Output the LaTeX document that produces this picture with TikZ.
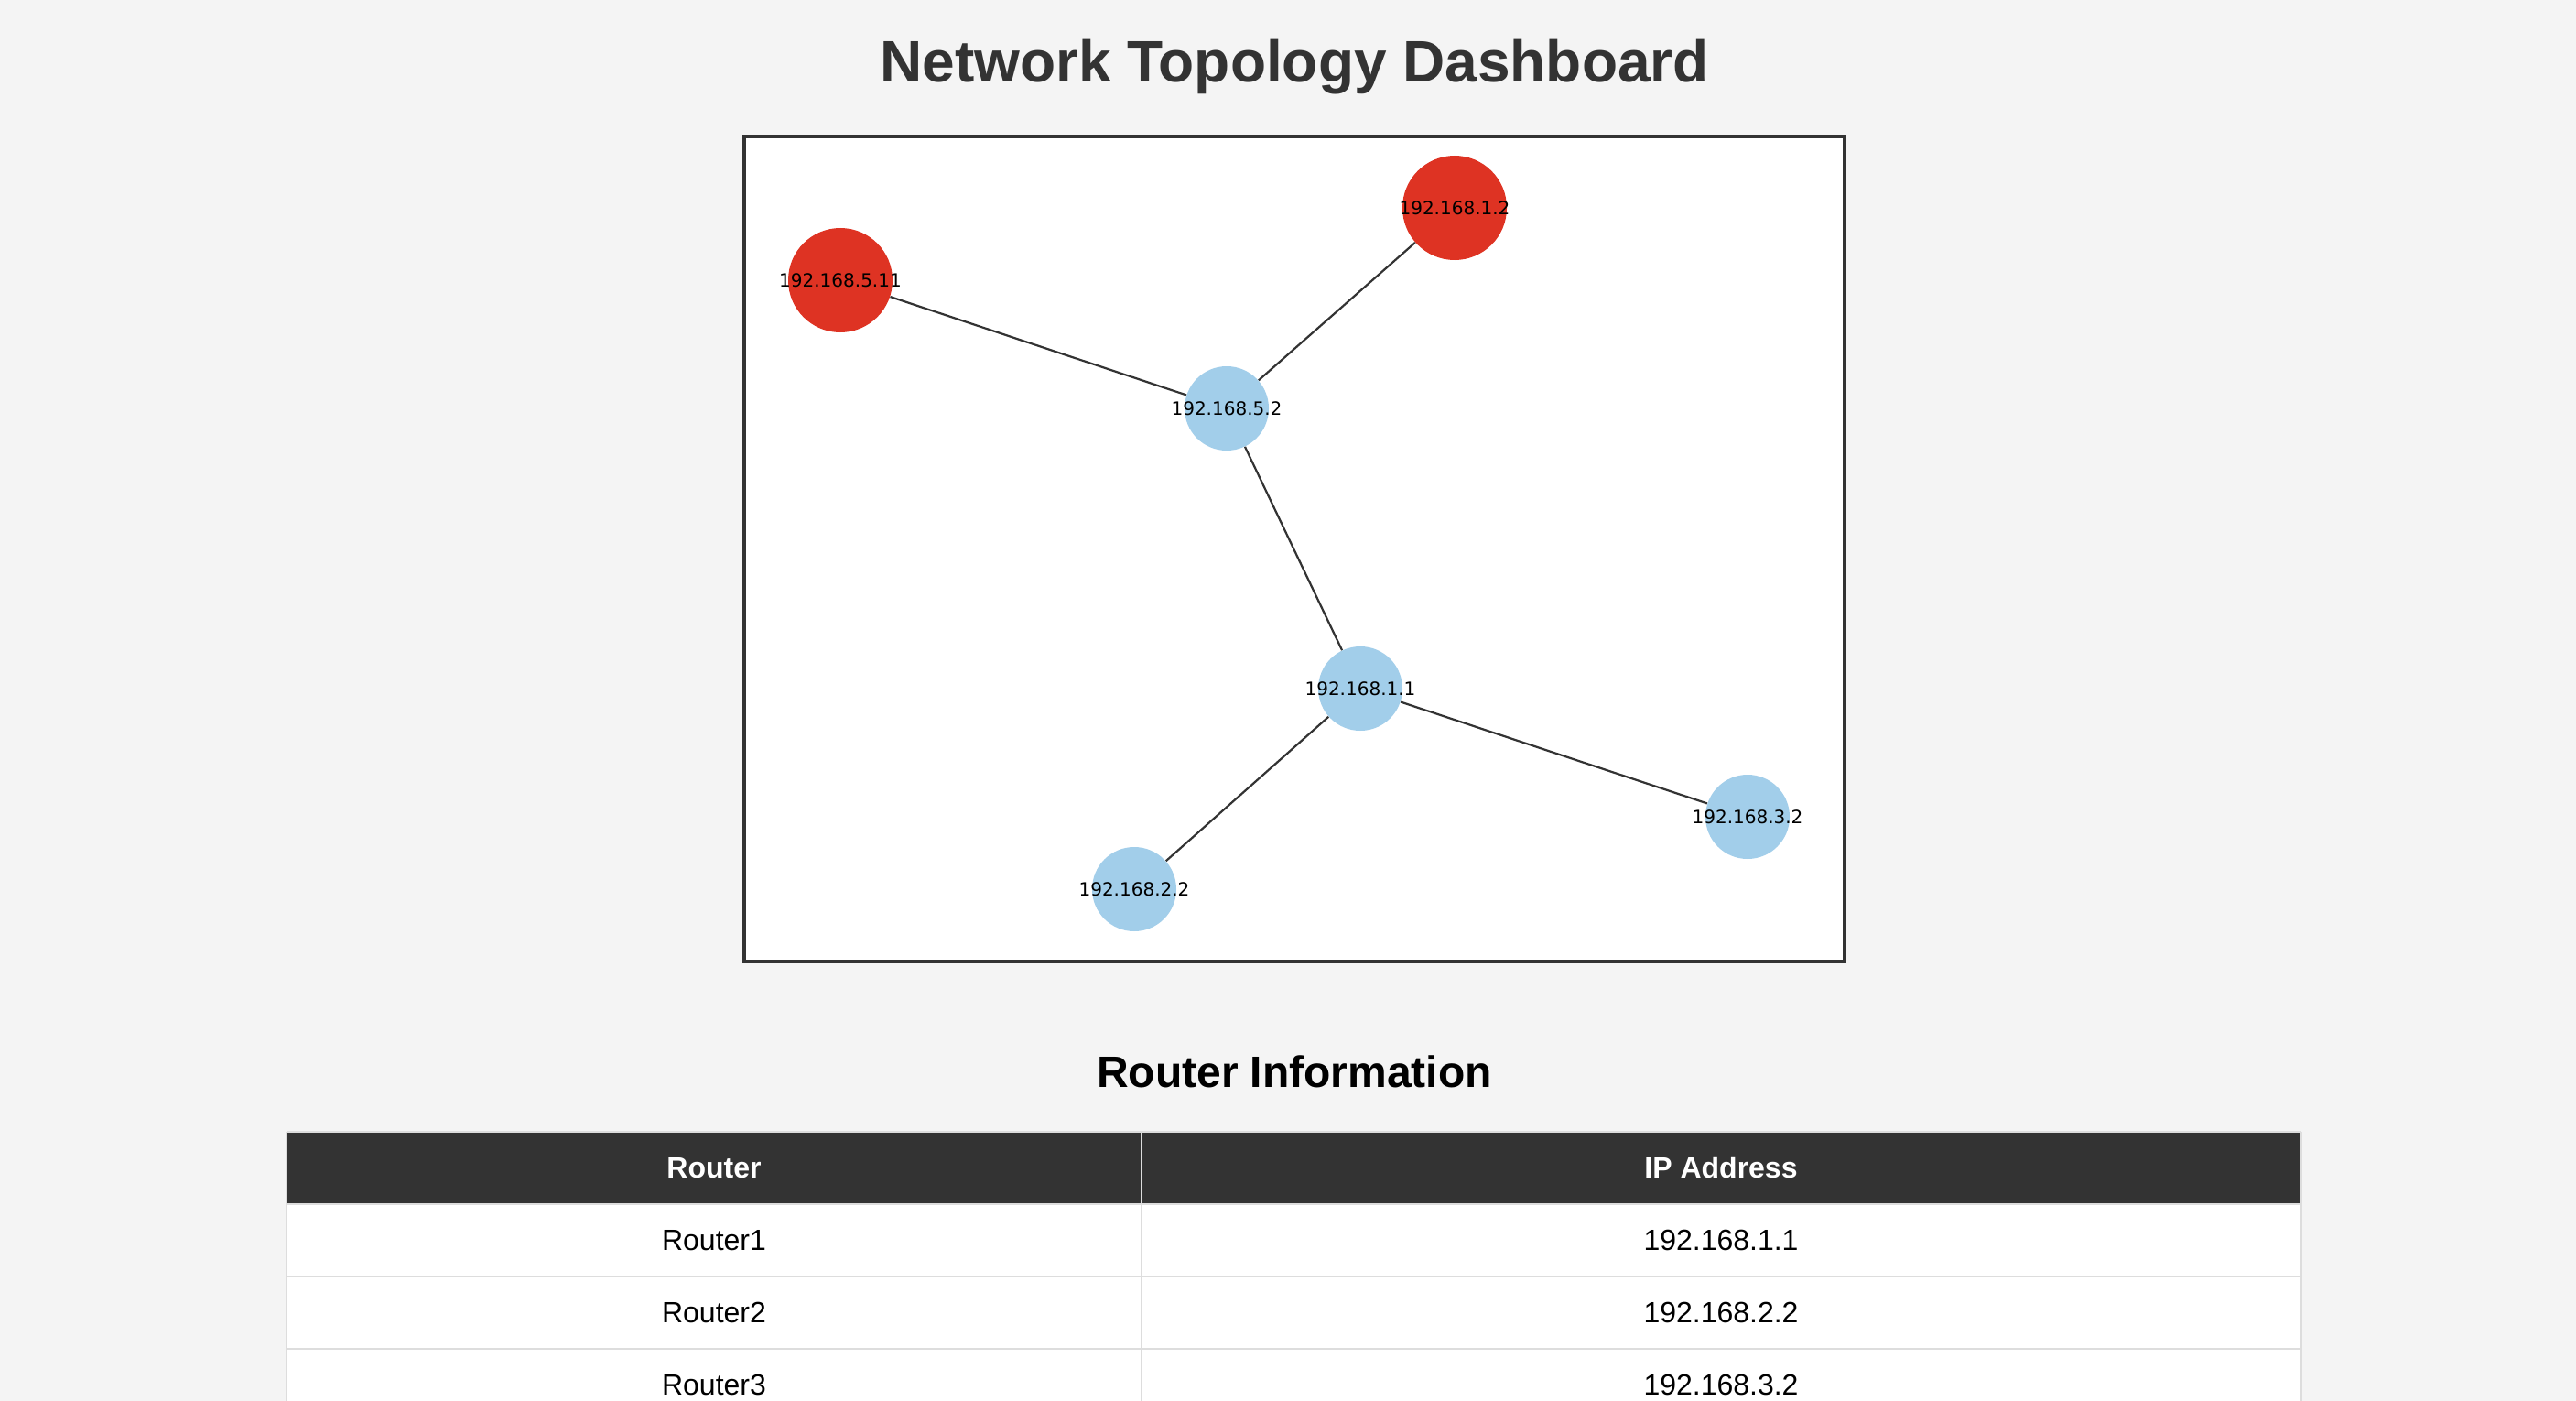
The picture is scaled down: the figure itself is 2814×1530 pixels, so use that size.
\documentclass[tikz,border=0pt]{standalone}
\usepackage{fontspec}
\setmainfont{Liberation Sans}
\newfontfamily\ipfont{DejaVu Sans}
\definecolor{pagebg}{HTML}{F4F4F4}
\definecolor{darkgray}{HTML}{333333}
\definecolor{gridgray}{HTML}{DDDDDD}
\definecolor{hostred}{HTML}{DE3323}
\definecolor{hostblue}{HTML}{A2CEEA}
\tikzset{
  router/.style={circle, inner sep=0pt, minimum size=46pt, fill=hostblue},
  gateway/.style={router, minimum size=57pt, fill=hostred},
  iplabel/.style={font=\ipfont\fontsize{10}{12}\selectfont, inner sep=0pt, text=black},
  link/.style={draw=darkgray, line width=1.1pt},
  cell/.style={anchor=base, inner sep=0pt, font=\fontsize{16}{19}\selectfont},
  headcell/.style={cell, text=white, font=\fontsize{16}{19}\selectfont\bfseries},
  gridline/.style={draw=gridgray, line width=1pt},
}
\begin{document}
\begin{tikzpicture}[x=0.5pt,y=0.5pt,yscale=-1,xscale=1]
\useasboundingbox (0,0) rectangle (2814,1530);
%Shape: Page background
\fill [pagebg] (0,0) rectangle (2814,1530);

%Text: Title
\node [anchor=base, inner sep=0pt, text=darkgray, font=\fontsize{32}{38}\selectfont\bfseries] (title) at (1414,90) {Network Topology Dashboard};

%Shape: Graph panel
\draw [draw=darkgray, line width=2pt, fill=white] (813,149) rectangle (2015,1050);

%Shape: Circles
\node [gateway] (h511) at (918,306) {};
\node [gateway] (h12) at (1589,227) {};
\node [router] (h52) at (1340,446) {};
\node [router] (h11) at (1486,752) {};
\node [router] (h32) at (1909,892) {};
\node [router] (h22) at (1239,971) {};

%Straight Lines
\draw [link] (h511) -- (h52);
\draw [link] (h12) -- (h52);
\draw [link] (h52) -- (h11);
\draw [link] (h11) -- (h32);
\draw [link] (h11) -- (h22);

%Text: IP labels
\node [iplabel] (t511) at (h511) {192.168.5.11};
\node [iplabel] (t12) at (h12) {192.168.1.2};
\node [iplabel] (t52) at (h52) {192.168.5.2};
\node [iplabel] (t11) at (h11) {192.168.1.1};
\node [iplabel] (t32) at (h32) {192.168.3.2};
\node [iplabel] (t22) at (h22) {192.168.2.2};

%Text: Section title
\node [anchor=base, inner sep=0pt, text=black, font=\fontsize{24}{29}\selectfont\bfseries] (subtitle) at (1414,1187) {Router Information};

%Shape: Table
\fill [white] (313,1315) rectangle (2514,1530);
\fill [darkgray] (313,1236) rectangle (2514,1315);
\draw [gridline] (313,1236) -- (2514,1236);
\draw [gridline] (313,1315) -- (2514,1315);
\draw [gridline] (313,1394) -- (2514,1394);
\draw [gridline] (313,1473) -- (2514,1473);
\draw [gridline] (313,1236) -- (313,1530);
\draw [gridline] (1247,1236) -- (1247,1530);
\draw [gridline] (2514,1236) -- (2514,1530);

%Text: Table cells
\node [headcell] (hrouter) at (780,1286) {Router};
\node [headcell] (hip) at (1880,1286) {IP Address};
\node [cell] (c11) at (780,1365) {Router1};
\node [cell] (c12) at (1880,1365) {192.168.1.1};
\node [cell] (c21) at (780,1444) {Router2};
\node [cell] (c22) at (1880,1444) {192.168.2.2};
\node [cell] (c31) at (780,1523) {Router3};
\node [cell] (c32) at (1880,1523) {192.168.3.2};

\end{tikzpicture}
\end{document}
